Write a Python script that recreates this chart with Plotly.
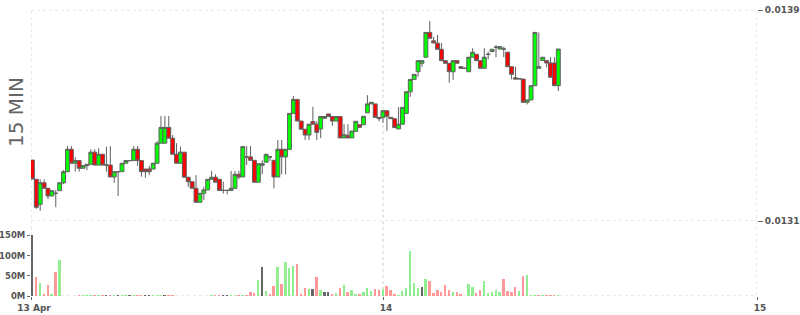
import plotly.graph_objects as go
from datetime import datetime, timedelta

# ---------------- data (15-minute candles) ----------------
start_time = datetime(2024, 4, 13, 1, 30)
interval_minutes = 15

opens = [
    0.013331, 0.013258, 0.013163, 0.013245, 0.013224, 0.013195, 0.013205, 0.013215, 0.013245, 0.013287,
    0.013372, 0.013319, 0.013329, 0.013300, 0.013310, 0.013315, 0.013361, 0.013312, 0.013353, 0.013312,
    0.013312, 0.013267, 0.013287, 0.013287, 0.013319, 0.013329, 0.013329, 0.013372, 0.013329, 0.013297,
    0.013297, 0.013297, 0.013319, 0.013395, 0.013395, 0.013455, 0.013414, 0.013353, 0.013319, 0.013361,
    0.013266, 0.013249, 0.013224, 0.013171, 0.013205, 0.013218, 0.013258, 0.013266, 0.013258, 0.013216,
    0.013216, 0.013216, 0.013224, 0.013277, 0.013267, 0.013343, 0.013343, 0.013330, 0.013247, 0.013311,
    0.013323, 0.013343, 0.013330, 0.013267, 0.013372, 0.013343, 0.013372, 0.013508, 0.013561, 0.013479,
    0.013448, 0.013426, 0.013477, 0.013467, 0.013449, 0.013489, 0.013506, 0.013496, 0.013479, 0.013496,
    0.013415, 0.013425, 0.013415, 0.013440, 0.013465, 0.013465, 0.013510, 0.013544, 0.013544, 0.013493,
    0.013493, 0.013518, 0.013493, 0.013488, 0.013449, 0.013467, 0.013508, 0.013590, 0.013637, 0.013666,
    0.013698, 0.013721, 0.013815, 0.013783, 0.013774, 0.013751, 0.013708, 0.013698, 0.013666, 0.013708,
    0.013685, 0.013679, 0.013666, 0.013721, 0.013732, 0.013708, 0.013679, 0.013732, 0.013742, 0.013759,
    0.013752, 0.013752, 0.013740, 0.013685, 0.013643, 0.013638, 0.013638, 0.013550, 0.013559, 0.013613,
    0.013679, 0.013708, 0.013708, 0.013699, 0.013699, 0.013613,
]
highs = [
    0.013331, 0.013258, 0.013258, 0.013258, 0.013224, 0.013215, 0.013218, 0.013245, 0.013293, 0.013384,
    0.013384, 0.013342, 0.013329, 0.013310, 0.013315, 0.013372, 0.013372, 0.013376, 0.013353, 0.013382,
    0.013384, 0.013287, 0.013287, 0.013319, 0.013329, 0.013329, 0.013384, 0.013384, 0.013329, 0.013297,
    0.013309, 0.013319, 0.013403, 0.013498, 0.013498, 0.013498, 0.013426, 0.013395, 0.013382, 0.013361,
    0.013266, 0.013249, 0.013274, 0.013205, 0.013230, 0.013258, 0.013290, 0.013277, 0.013258, 0.013249,
    0.013216, 0.013290, 0.013290, 0.013290, 0.013382, 0.013384, 0.013384, 0.013330, 0.013317, 0.013330,
    0.013353, 0.013343, 0.013330, 0.013407, 0.013407, 0.013372, 0.013508, 0.013574, 0.013561, 0.013479,
    0.013448, 0.013467, 0.013533, 0.013479, 0.013496, 0.013496, 0.013506, 0.013496, 0.013496, 0.013496,
    0.013467, 0.013467, 0.013441, 0.013478, 0.013465, 0.013497, 0.013577, 0.013550, 0.013544, 0.013493,
    0.013518, 0.013518, 0.013493, 0.013488, 0.013532, 0.013531, 0.013590, 0.013637, 0.013656, 0.013708,
    0.013708, 0.013815, 0.013858, 0.013798, 0.013805, 0.013775, 0.013708, 0.013698, 0.013708, 0.013708,
    0.013685, 0.013679, 0.013721, 0.013755, 0.013732, 0.013708, 0.013755, 0.013742, 0.013751, 0.013767,
    0.013761, 0.013761, 0.013740, 0.013685, 0.013685, 0.013640, 0.013638, 0.013559, 0.013613, 0.013815,
    0.013815, 0.013721, 0.013708, 0.013721, 0.013721, 0.013752,
]
lows = [
    0.013259, 0.013146, 0.013139, 0.013224, 0.013183, 0.013195, 0.013152, 0.013215, 0.013240, 0.013287,
    0.013319, 0.013287, 0.013287, 0.013300, 0.013293, 0.013315, 0.013312, 0.013312, 0.013312, 0.013287,
    0.013267, 0.013245, 0.013195, 0.013287, 0.013319, 0.013329, 0.013329, 0.013309, 0.013268, 0.013264,
    0.013274, 0.013297, 0.013319, 0.013395, 0.013395, 0.013414, 0.013353, 0.013319, 0.013319, 0.013266,
    0.013230, 0.013224, 0.013171, 0.013171, 0.013180, 0.013218, 0.013258, 0.013247, 0.013216, 0.013204,
    0.013201, 0.013216, 0.013224, 0.013258, 0.013267, 0.013312, 0.013330, 0.013247, 0.013247, 0.013277,
    0.013323, 0.013328, 0.013224, 0.013267, 0.013277, 0.013277, 0.013372, 0.013508, 0.013479, 0.013448,
    0.013407, 0.013407, 0.013467, 0.013407, 0.013414, 0.013489, 0.013496, 0.013461, 0.013479, 0.013415,
    0.013415, 0.013415, 0.013415, 0.013440, 0.013455, 0.013465, 0.013510, 0.013544, 0.013493, 0.013478,
    0.013472, 0.013442, 0.013488, 0.013454, 0.013449, 0.013467, 0.013508, 0.013571, 0.013637, 0.013647,
    0.013685, 0.013721, 0.013793, 0.013775, 0.013751, 0.013708, 0.013698, 0.013624, 0.013635, 0.013698,
    0.013679, 0.013679, 0.013666, 0.013721, 0.013708, 0.013679, 0.013679, 0.013713, 0.013742, 0.013721,
    0.013752, 0.013721, 0.013685, 0.013637, 0.013638, 0.013638, 0.013550, 0.013542, 0.013559, 0.013613,
    0.013679, 0.013708, 0.013683, 0.013645, 0.013613, 0.013593,
]
closes = [
    0.013259, 0.013152, 0.013245, 0.013224, 0.013195, 0.013215, 0.013205, 0.013245, 0.013287, 0.013372,
    0.013319, 0.013329, 0.013300, 0.013310, 0.013315, 0.013361, 0.013312, 0.013353, 0.013312, 0.013312,
    0.013267, 0.013287, 0.013287, 0.013319, 0.013329, 0.013329, 0.013372, 0.013329, 0.013287, 0.013287,
    0.013287, 0.013319, 0.013395, 0.013455, 0.013455, 0.013414, 0.013353, 0.013319, 0.013361, 0.013266,
    0.013249, 0.013224, 0.013171, 0.013205, 0.013218, 0.013258, 0.013266, 0.013247, 0.013216, 0.013216,
    0.013216, 0.013224, 0.013277, 0.013267, 0.013382, 0.013343, 0.013330, 0.013247, 0.013317, 0.013317,
    0.013353, 0.013343, 0.013267, 0.013372, 0.013343, 0.013372, 0.013508, 0.013561, 0.013479, 0.013448,
    0.013426, 0.013467, 0.013467, 0.013436, 0.013496, 0.013496, 0.013496, 0.013479, 0.013496, 0.013415,
    0.013427, 0.013415, 0.013441, 0.013478, 0.013455, 0.013497, 0.013544, 0.013550, 0.013493, 0.013488,
    0.013518, 0.013497, 0.013488, 0.013454, 0.013467, 0.013531, 0.013590, 0.013637, 0.013656, 0.013708,
    0.013708, 0.013815, 0.013793, 0.013775, 0.013751, 0.013708, 0.013698, 0.013666, 0.013708, 0.013698,
    0.013679, 0.013679, 0.013721, 0.013740, 0.013708, 0.013679, 0.013721, 0.013732, 0.013751, 0.013759,
    0.013761, 0.013752, 0.013685, 0.013656, 0.013638, 0.013640, 0.013550, 0.013559, 0.013613, 0.013815,
    0.013685, 0.013721, 0.013699, 0.013645, 0.013613, 0.013752,
]
volumes_m = [
    150, 46, 31, 3, 28, 6, 59, 88, 0, 0,
    0, 0, 1.5, 1.2, 1.5, 1.0, 1.5, 1.2, 1.5, 1.0,
    1.5, 1.2, 1.5, 1.0, 1.5, 1.2, 1.5, 1.0, 1.5, 1.2,
    1.5, 1.0, 1.5, 1.2, 1.5, 1.0, 1.5, 0, 0, 0,
    0, 0, 0, 0, 0, 0, 1.5, 1.2, 1.5, 1.0,
    1.5, 1.2, 1.5, 1.0, 1.5, 1.2, 9, 7, 40, 72,
    12, 6, 25, 72, 30, 85, 70, 75, 80, 6,
    19, 17, 17, 48, 16, 9, 10, 6, 8, 20,
    28, 9, 14, 6, 4, 10, 20, 12, 18, 14,
    17, 24, 15, 5, 1, 12, 19, 111, 33, 21,
    23, 41, 38, 8, 15, 11, 27, 15, 11, 11,
    5, 0, 30, 23, 8, 15, 38, 8, 11, 15,
    11, 43, 12, 11, 22, 12, 50, 53, 1, 1,
    1, 1, 1, 1, 1, 1,
]

price_ticks = [0.0131, 0.0139]
price_tick_text = ["0.0131", "0.0139"]
volume_ticks_m = [0, 50, 100, 150]
volume_tick_text = ["0M", "50M", "100M", "150M"]
x_tick_times = ["2024-04-13 01:24:40", "2024-04-14 00:00:00", "2024-04-15 00:00:00"]
x_tick_text = ["13 Apr", "14", "15"]
x_range = ["2024-04-13 01:24:36", "2024-04-15 00:00:00"]
panel_label = "15 MIN"

# ---------------- build ----------------
times = [start_time + timedelta(minutes=interval_minutes * i) for i in range(len(closes))]
volumes = [v * 1e6 for v in volumes_m]

UP_VOL, DOWN_VOL, FLAT_VOL = "#90ee90", "#ff9999", "#666666"
vol_colors = []
for i, c in enumerate(closes):
    if i == 0 or c == closes[i - 1]:
        vol_colors.append(FLAT_VOL)
    elif c > closes[i - 1]:
        vol_colors.append(UP_VOL)
    else:
        vol_colors.append(DOWN_VOL)

fig = go.Figure()
fig.add_trace(go.Candlestick(
    x=times, open=opens, high=highs, low=lows, close=closes,
    xaxis="x", yaxis="y",
    increasing=dict(fillcolor="#00ff00", line=dict(color="#606060", width=1)),
    decreasing=dict(fillcolor="#ff0000", line=dict(color="#606060", width=1)),
    whiskerwidth=0, showlegend=False, hoverinfo="x+y",
))
fig.add_trace(go.Bar(
    x=times, y=volumes, xaxis="x", yaxis="y2",
    marker=dict(color=vol_colors, line=dict(width=0)),
    width=interval_minutes * 60 * 1000 * 0.5,
    showlegend=False,
))

grid = dict(color="#d4d4d4", width=1, dash="dot")
shapes = []
for t in x_tick_times:
    shapes.append(dict(type="line", xref="x", yref="paper", x0=t, x1=t, y0=0, y1=1,
                       line=grid, layer="below"))
for v in price_ticks:
    shapes.append(dict(type="line", xref="paper", yref="y", x0=0, x1=1, y0=v, y1=v,
                       line=grid, layer="below"))
shapes.append(dict(type="line", xref="paper", yref="y2", x0=0, x1=1, y0=0, y1=0,
                   line=grid, layer="below"))

tick_font = dict(family="DejaVu Sans", size=9, color="#555555", weight="bold")
vol_tick_font = dict(family="DejaVu Sans", size=8.5, color="#555555", weight="bold")
split = (296 - 221) / 286

fig.update_layout(
    width=800, height=315,
    margin=dict(l=31, r=43, t=10, b=19, autoexpand=False),
    paper_bgcolor="white", plot_bgcolor="white",
    boxgap=0, boxgroupgap=0, bargap=0,
    shapes=shapes,
    xaxis=dict(
        type="date", range=x_range, anchor="y2", automargin=False,
        tickmode="array", tickvals=x_tick_times, ticktext=x_tick_text,
        ticks="outside", ticklen=3, tickcolor="#666666", tickfont=tick_font,
        ticklabelshift=3,
        showgrid=False, zeroline=False, showline=False,
        rangeslider=dict(visible=False),
    ),
    yaxis=dict(
        domain=[split, 1], range=[price_ticks[0], price_ticks[1]], side="right",
        automargin=False,
        tickmode="array", tickvals=price_ticks, ticktext=price_tick_text,
        ticks="outside", ticklen=5, tickcolor="#666666", tickfont=tick_font,
        showgrid=False, zeroline=False, showline=False, anchor="x",
    ),
    yaxis2=dict(
        domain=[0, split], range=[0, 185.6e6], side="left", automargin=False,
        tickmode="array", tickvals=[v * 1e6 for v in volume_ticks_m], ticktext=volume_tick_text,
        ticks="outside", ticklen=3, tickcolor="#666666", tickfont=vol_tick_font,
        showgrid=False, zeroline=False, showline=False, anchor="x",
    ),
    annotations=[dict(
        text=panel_label, xref="paper", yref="paper",
        x=(15.5 - 31) / 726, y=(296 - 112.5) / 286,
        xanchor="center", yanchor="middle", textangle=-90, showarrow=False,
        font=dict(family="DejaVu Sans", size=20, color="#666666"),
    )],
)

fig.write_html("out.html")
